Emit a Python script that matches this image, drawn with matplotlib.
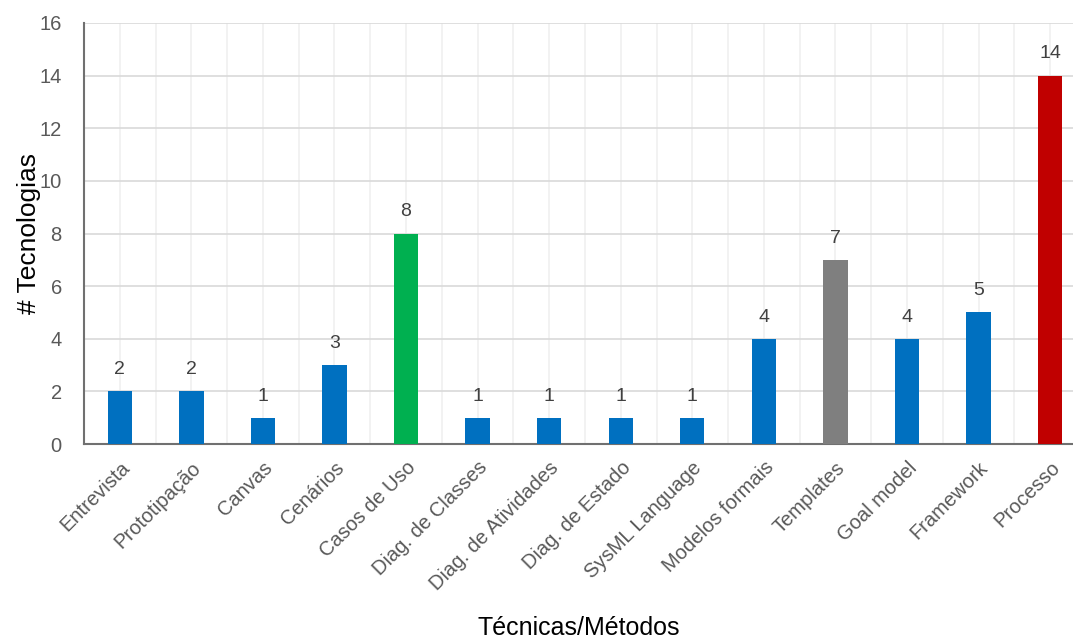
import matplotlib
matplotlib.use("Agg")
import matplotlib.pyplot as plt
import numpy as np

plt.rcParams['font.family'] = ['Liberation Sans', 'DejaVu Sans']

tecnicas = ["Entrevista", "Prototipação", "Canvas", "Cenários", "Casos de Uso",
            "Diag. de Classes", "Diag. de Atividades", "Diag. de Estado",
            "SysML Language", "Modelos formais", "Templates", "Goal model",
            "Framework", "Processo"]
tecnologias = [2, 2, 1, 3, 8, 1, 1, 1, 1, 4, 7, 4, 5, 14]
cores = ["#0070C0"] * 4 + ["#00B050"] + ["#0070C0"] * 5 + ["#7F7F7F"] + ["#0070C0"] * 2 + ["#C00000"]

fig = plt.figure(figsize=(10.73, 6.38), dpi=100, facecolor='w')
ax = fig.add_axes([0.0783, 0.304, 0.9217, 0.66])

x = np.arange(len(tecnicas))
bars = ax.bar(x, tecnologias, width=0.34, color=cores, zorder=3)
for b, v in zip(bars, tecnologias):
    ax.text(b.get_x() + b.get_width() / 2, v + 0.5, str(v), ha='center', va='bottom',
            fontsize=14, color='#404040')

ax.set_xlim(-0.5, 13.32)
ax.set_ylim(0, 16)
ax.set_yticks(np.arange(0, 17, 2))
ax.set_xticks(x)
ax.set_xticks(np.arange(-0.5, 13.5, 1), minor=True)
ax.set_xticklabels(tecnicas, rotation=45, ha='right', rotation_mode='anchor',
                   fontsize=14.5, color='#595959')
ax.tick_params(axis='y', labelsize=14.5, labelcolor='#595959', length=0, pad=16)
ax.tick_params(axis='x', which='both', length=0, pad=10)

ax.grid(axis='y', color='#D9D9D9', lw=1.2, zorder=0)
ax.grid(axis='x', which='both', color='#F0F0F0', lw=1.2, zorder=0)

for s in ('top', 'right'):
    ax.spines[s].set_visible(False)
for s in ('left', 'bottom'):
    ax.spines[s].set_color('#707070')
    ax.spines[s].set_linewidth(1.5)

ax.set_ylabel('# Tecnologias', fontsize=19, color='black', labelpad=-1)
ax.set_xlabel('Técnicas/Métodos', fontsize=18, color='black', labelpad=16)

fig.savefig('out.png', dpi=100, facecolor='w')
